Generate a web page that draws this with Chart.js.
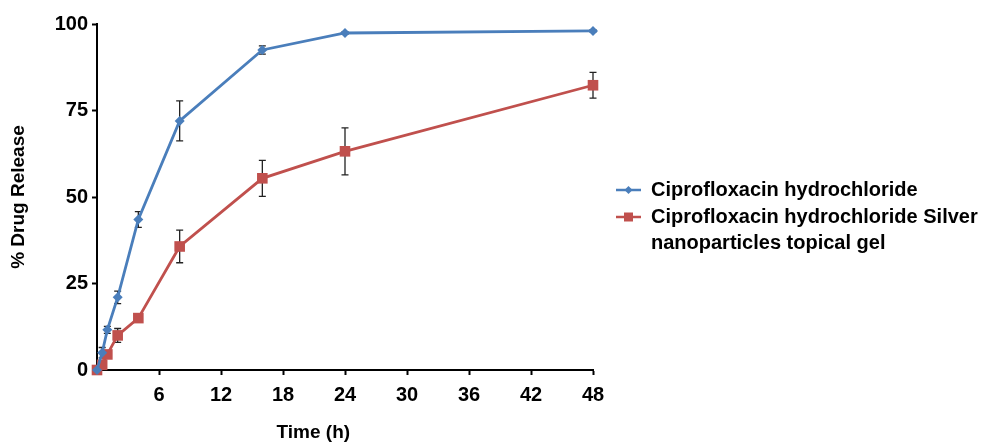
<!DOCTYPE html>
<html>
<head>
<meta charset="utf-8">
<script src="https://cdn.jsdelivr.net/npm/chart.js@4.4.1/dist/chart.umd.min.js"></script>
<style>
  html, body { margin: 0; padding: 0; background: #fff; }
  #wrap { width: 996px; height: 444px; }
</style>
</head>
<body>
<div id="wrap"><canvas id="chart" width="996" height="444"></canvas></div>
<script>
// release time points (h)
const times = [0, 0.5, 1, 2, 4, 8, 16, 24, 48];

// Ciprofloxacin hydrochloride
const drugMean = [0, 5, 11.6, 21, 43.5, 72, 92.5, 97.4, 98];
const drugErr  = [0, 1.5, 1, 1.8, 2.3, 5.8, 1.2, 0.3, 0.3];

// Ciprofloxacin hydrochloride Silver nanoparticles topical gel
const gelMean = [0, 1.5, 4.5, 10, 15, 35.7, 55.4, 63.2, 82.3];
const gelErr  = [0, 0.5, 1, 2, 1, 4.7, 5.2, 6.8, 3.7];

const legendLabels = [
    ['Ciprofloxacin hydrochloride'],
    ['Ciprofloxacin hydrochloride Silver', 'nanoparticles topical gel']
];

const yTicks = [0, 25, 50, 75, 100];
const xTicks = [6, 12, 18, 24, 30, 36, 42, 48];

const BLUE = '#4a7ebb';
const RED = '#c0504d';
const FONT = "'Liberation Sans', Arial, sans-serif";

function toPoints(xs, ys) {
    return xs.map((x, i) => ({ x: x, y: ys[i] }));
}

// error bars drawn behind the markers
const errorBars = {
    id: 'errorBars',
    beforeDatasetsDraw(chart) {
        const ctx = chart.ctx;
        const xs = chart.scales.x, ys = chart.scales.y;
        const errs = [drugErr, gelErr];
        ctx.save();
        ctx.strokeStyle = '#222';
        ctx.lineWidth = 1.3;
        chart.data.datasets.forEach((ds, d) => {
            ds.data.forEach((p, i) => {
                const e = errs[d][i];
                if (!e) return;
                const px = xs.getPixelForValue(p.x);
                const top = ys.getPixelForValue(p.y + e);
                const bot = ys.getPixelForValue(p.y - e);
                ctx.beginPath();
                ctx.moveTo(px, top); ctx.lineTo(px, bot);
                ctx.moveTo(px - 3.5, top); ctx.lineTo(px + 3.5, top);
                ctx.moveTo(px - 3.5, bot); ctx.lineTo(px + 3.5, bot);
                ctx.stroke();
            });
        });
        ctx.restore();
    }
};

// legend on the right, as in the original figure
const sideLegend = {
    id: 'sideLegend',
    afterDraw(chart) {
        const ctx = chart.ctx;
        const rows = [190, 217];
        ctx.save();
        chart.data.datasets.forEach((ds, d) => {
            const y = rows[d];
            ctx.strokeStyle = ds.borderColor;
            ctx.lineWidth = 2.5;
            ctx.beginPath();
            ctx.moveTo(616, y); ctx.lineTo(641, y);
            ctx.stroke();
            ctx.fillStyle = ds.backgroundColor;
            ctx.beginPath();
            if (d === 0) {
                ctx.moveTo(628.5, y - 4); ctx.lineTo(632.5, y);
                ctx.lineTo(628.5, y + 4); ctx.lineTo(624.5, y);
                ctx.closePath();
            } else {
                ctx.rect(624, y - 4.5, 9, 9);
            }
            ctx.fill();
            ctx.fillStyle = '#000';
            ctx.font = 'bold 20px ' + FONT;
            ctx.textBaseline = 'middle';
            ctx.textAlign = 'left';
            legendLabels[d].forEach((line, k) => {
                ctx.fillText(line, 651, y + k * 26);
            });
        });
        ctx.restore();
    }
};

new Chart(document.getElementById('chart'), {
    type: 'line',
    data: {
        datasets: [
            {
                label: legendLabels[0].join(' '),
                data: toPoints(times, drugMean),
                borderColor: BLUE,
                backgroundColor: BLUE,
                borderWidth: 2.8,
                pointStyle: 'rectRot',
                pointRadius: 5,
                pointBorderWidth: 0,
                tension: 0,
                clip: false
            },
            {
                label: legendLabels[1].join(' '),
                data: toPoints(times, gelMean),
                borderColor: RED,
                backgroundColor: RED,
                borderWidth: 2.8,
                pointStyle: 'rect',
                pointRadius: 7.5,
                pointBorderWidth: 0,
                tension: 0,
                clip: false
            }
        ]
    },
    options: {
        responsive: false,
        animation: false,
        layout: { padding: { top: 24, right: 403, bottom: 0, left: 0 } },
        plugins: {
            legend: { display: false },
            tooltip: { enabled: false }
        },
        scales: {
            x: {
                type: 'linear',
                min: 0,
                max: 48,
                afterFit: s => { s.height = 74; },
                afterBuildTicks: s => { s.ticks = xTicks.map(v => ({ value: v })); },
                border: { color: '#000', width: 2 },
                grid: { drawOnChartArea: false, tickLength: 5, color: '#000', tickWidth: 2 },
                ticks: {
                    color: '#000',
                    padding: 8,
                    maxRotation: 0,
                    font: { family: FONT, size: 20, weight: 'bold' }
                },
                title: {
                    display: true,
                    // trailing spaces nudge the centred title left, as in the source figure
                    text: 'Time (h)\u00a0\u00a0\u00a0\u00a0\u00a0\u00a0\u00a0\u00a0\u00a0\u00a0\u00a0\u00a0',
                    color: '#000',
                    padding: { top: 0, bottom: 0 },
                    font: { family: FONT, size: 19, weight: 'bold' }
                }
            },
            y: {
                min: 0,
                max: 100,
                afterFit: s => { s.width = 97; },
                afterBuildTicks: s => { s.ticks = yTicks.map(v => ({ value: v })); },
                border: { color: '#000', width: 2 },
                grid: { drawOnChartArea: false, tickLength: 5, color: '#000', tickWidth: 2 },
                ticks: {
                    color: '#000',
                    padding: 4,
                    font: { family: FONT, size: 20, weight: 'bold' }
                },
                title: {
                    display: true,
                    text: '% Drug Release',
                    color: '#000',
                    padding: { top: 7, bottom: 0 },
                    font: { family: FONT, size: 19, weight: 'bold' }
                }
            }
        }
    },
    plugins: [errorBars, sideLegend]
});
</script>
</body>
</html>
